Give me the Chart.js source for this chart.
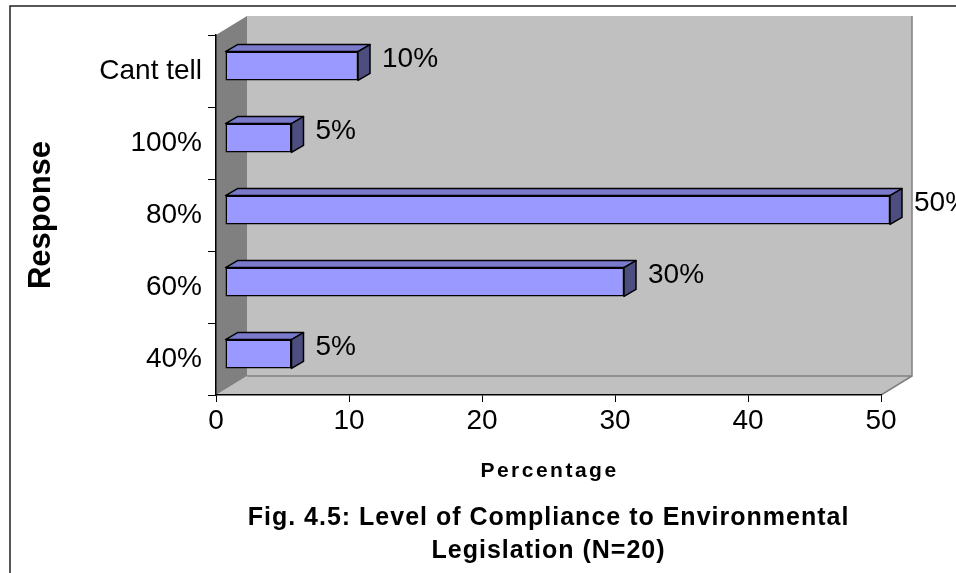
<!DOCTYPE html>
<html>
<head>
<meta charset="utf-8">
<title>Fig. 4.5: Level of Compliance to Environmental Legislation</title>
<script src="https://cdn.jsdelivr.net/npm/chart.js@4.4.1/dist/chart.umd.min.js"></script>
<style>
  html, body { margin: 0; padding: 0; background: #fff; }
  canvas { display: block; }
</style>
</head>
<body>
<canvas id="complianceChart" width="956" height="573"></canvas>
<script>
// Chart data
const responses = ["Cant tell", "100%", "80%", "60%", "40%"];
const percentages = [10, 5, 50, 30, 5];
const percentTicks = [0, 10, 20, 30, 40, 50];
const chartTitle = ["Fig. 4.5: Level of Compliance to Environmental", "Legislation (N=20)"];
const xTitle = "Percentage";
const yTitle = "Response";

const FONT = "'Liberation Sans', Arial, Helvetica, sans-serif";

// 3D look (pixels)
const WALL_DX = 31, WALL_DY = -19; // depth of walls and floor
const BAR_DX = 9, BAR_DY = -5;     // bars sit a little inside the depth
const BOX_DX = 12, BOX_DY = -7;    // thickness of each bar

function face(ctx, pts, fill) {
  ctx.beginPath();
  ctx.moveTo(pts[0][0], pts[0][1]);
  for (let i = 1; i < pts.length; i++) ctx.lineTo(pts[i][0], pts[i][1]);
  ctx.closePath();
  ctx.fillStyle = fill;
  ctx.fill();
  ctx.stroke();
}

const walls3d = {
  id: "walls3d",
  beforeDraw(chart) {
    const { ctx, chartArea: a } = chart;
    ctx.save();

    // outer frame (left and top only, picture is cropped)
    ctx.strokeStyle = "#222";
    ctx.lineWidth = 1.5;
    ctx.beginPath();
    ctx.moveTo(10, chart.height);
    ctx.lineTo(10, 6);
    ctx.lineTo(chart.width, 6);
    ctx.stroke();

    // back wall + floor
    ctx.fillStyle = "#c0c0c0";
    ctx.fillRect(a.left + WALL_DX, a.top + WALL_DY, a.width, a.height);
    ctx.beginPath();
    ctx.moveTo(a.left, a.bottom);
    ctx.lineTo(a.left + WALL_DX, a.bottom + WALL_DY);
    ctx.lineTo(a.right + WALL_DX, a.bottom + WALL_DY);
    ctx.lineTo(a.right, a.bottom);
    ctx.closePath();
    ctx.fill();

    // side wall
    ctx.fillStyle = "#808080";
    ctx.beginPath();
    ctx.moveTo(a.left, a.top);
    ctx.lineTo(a.left + WALL_DX, a.top + WALL_DY);
    ctx.lineTo(a.left + WALL_DX, a.bottom + WALL_DY);
    ctx.lineTo(a.left, a.bottom);
    ctx.closePath();
    ctx.fill();

    // edges
    ctx.strokeStyle = "#808080";
    ctx.lineWidth = 1.5;
    ctx.beginPath();
    ctx.moveTo(a.left + WALL_DX, a.bottom + WALL_DY);
    ctx.lineTo(a.right + WALL_DX, a.bottom + WALL_DY);
    ctx.lineTo(a.right + WALL_DX, a.top + WALL_DY);
    ctx.moveTo(a.right + WALL_DX, a.bottom + WALL_DY);
    ctx.lineTo(a.right, a.bottom);
    ctx.stroke();
    ctx.restore();
  },
  beforeDatasetsDraw(chart) {
    chart.ctx.save();
    chart.ctx.translate(BAR_DX, BAR_DY);
  },
  afterDatasetsDraw(chart) {
    const ctx = chart.ctx;
    const meta = chart.getDatasetMeta(0);
    ctx.lineWidth = 1.5;
    ctx.strokeStyle = "#000";
    ctx.lineJoin = "round";
    meta.data.forEach((bar) => {
      const { x, y, base, height } = bar.getProps(["x", "y", "base", "height"], true);
      const top = y - height / 2;
      const bottom = y + height / 2;
      face(ctx, [[base, top], [base + BOX_DX, top + BOX_DY], [x + BOX_DX, top + BOX_DY], [x, top]], "#7a7acc");
      face(ctx, [[x, top], [x + BOX_DX, top + BOX_DY], [x + BOX_DX, bottom + BOX_DY], [x, bottom]], "#4d4d80");
    });
    ctx.restore();

    // value labels
    ctx.save();
    ctx.font = `28px ${FONT}`;
    ctx.fillStyle = "#000";
    ctx.textAlign = "left";
    ctx.textBaseline = "middle";
    meta.data.forEach((bar, i) => {
      ctx.fillText(`${percentages[i]}%`, bar.x + BAR_DX + 24, bar.y - 12);
    });
    ctx.restore();
  },
  afterDraw(chart) {
    const { ctx, chartArea: a } = chart;
    const mid = (a.left + a.right) / 2;
    ctx.save();
    ctx.fillStyle = "#000";
    ctx.textAlign = "center";
    ctx.textBaseline = "middle";

    // x axis title, spaced out like the original
    ctx.font = `bold 21px ${FONT}`;
    ctx.letterSpacing = "2.5px";
    ctx.fillText(xTitle, mid + 1, 471);

    // figure caption
    ctx.font = `bold 25px ${FONT}`;
    ctx.letterSpacing = "1px";
    ctx.fillText(chartTitle[0], mid, 518);
    ctx.fillText(chartTitle[1], mid, 551);
    ctx.restore();
  },
};

const ctx = document.getElementById("complianceChart").getContext("2d");
const complianceChart = new Chart(ctx, {
  type: "bar",
  data: {
    labels: responses,
    datasets: [
      {
        label: "Percentage",
        data: percentages,
        backgroundColor: "#9999ff",
        borderColor: "#000",
        borderWidth: 1.5,
        borderSkipped: false,
        categoryPercentage: 0.8,
        barPercentage: 0.5,
        clip: false,
      },
    ],
  },
  options: {
    indexAxis: "y",
    responsive: false,
    animation: false,
    layout: {
      padding: { left: 0, right: 75, top: 35, bottom: 0 },
    },
    plugins: {
      legend: { display: false },
      tooltip: { enabled: false },
    },
    scales: {
      x: {
        min: percentTicks[0],
        max: percentTicks[percentTicks.length - 1],
        afterBuildTicks: (scale) => {
          scale.ticks = percentTicks.map((value) => ({ value }));
        },
        afterFit: (scale) => {
          scale.height = 178;
        },
        grid: { drawOnChartArea: false, tickLength: 7, color: "#000", lineWidth: 1 },
        border: { display: true, color: "#000", width: 1.5 },
        ticks: { font: { family: FONT, size: 28 }, color: "#000", padding: 2, maxRotation: 0 },
      },
      y: {
        afterFit: (scale) => {
          scale.width = 216;
        },
        grid: { drawOnChartArea: false, tickLength: 8, color: "#000", lineWidth: 1 },
        border: { display: true, color: "#000", width: 1.5 },
        ticks: { font: { family: FONT, size: 28 }, color: "#000", padding: 6 },
        title: {
          display: true,
          text: yTitle,
          color: "#000",
          font: { family: FONT, size: 31, weight: "bold" },
          padding: { top: 23, bottom: 0 },
        },
      },
    },
  },
  plugins: [walls3d],
});
</script>
</body>
</html>
